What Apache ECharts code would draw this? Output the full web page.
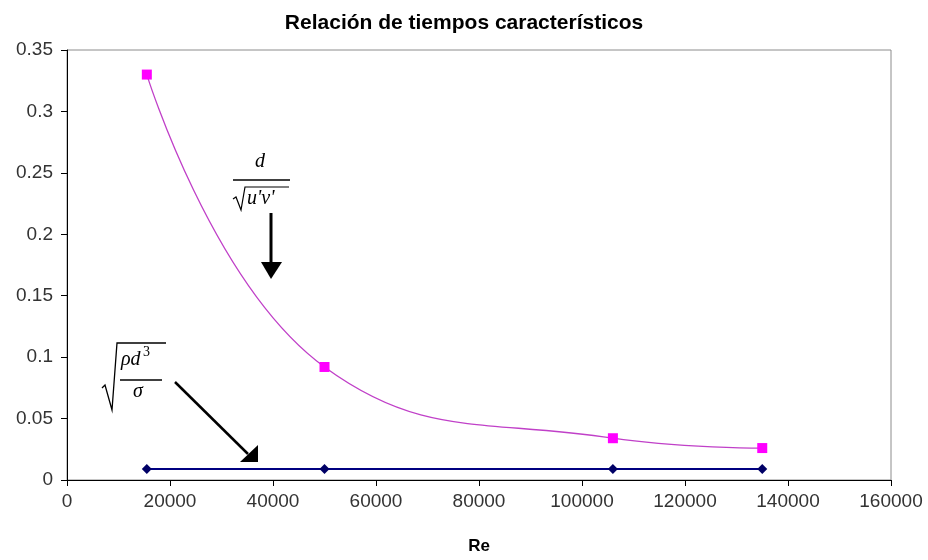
<!DOCTYPE html>
<html>
<head>
<meta charset="utf-8">
<script src="https://cdn.jsdelivr.net/npm/echarts@6/dist/echarts.min.js"></script>
<style>
  html, body { margin: 0; padding: 0; background: #fff; }
  #chart { width: 928px; height: 560px; }
</style>
</head>
<body>
<div id="chart"></div>
<script>
// datos
var reValues = [15500, 50000, 106000, 135000];
var tiempoTurb = [0.330, 0.092, 0.034, 0.026];   // d / sqrt(u'v')
var tiempoTens = [0.009, 0.009, 0.009, 0.009];   // sqrt(rho d^3 / sigma)
var xTicks = [0, 160000, 20000];
var yTicks = [0, 0.35, 0.05];

var chart = echarts.init(document.getElementById('chart'));

function pairs(xs, ys) {
    return xs.map(function (x, i) { return [x, ys[i]]; });
}

var fuente = 'Liberation Sans, Arial, sans-serif';
var serif = 'Liberation Serif, Times New Roman, serif';

var option = {
    backgroundColor: '#fff',
    animation: false,
    title: {
        text: 'Relación de tiempos característicos',
        left: 'center',
        top: 8,
        textStyle: { fontFamily: fuente, fontSize: 21, fontWeight: 'bold', color: '#000' }
    },
    grid: { left: 67, right: 37, top: 50, bottom: 80, show: true, borderColor: '#8c8c8c', borderWidth: 1 },
    xAxis: {
        type: 'value',
        min: xTicks[0], max: xTicks[1], interval: xTicks[2],
        name: 'Re', nameLocation: 'middle', nameGap: 58,
        nameTextStyle: { fontFamily: fuente, fontSize: 17, fontWeight: 'bold', color: '#000' },
        axisLine: { show: true, lineStyle: { color: '#000', width: 1 } },
        axisTick: { show: true, length: 6, inside: false, lineStyle: { color: '#000' } },
        axisLabel: {
            fontFamily: fuente, fontSize: 19, color: '#333', margin: 12,
            formatter: function (v) { return String(v); }
        },
        splitLine: { show: false }
    },
    yAxis: {
        type: 'value',
        min: yTicks[0], max: yTicks[1], interval: yTicks[2],
        axisLine: { show: true, lineStyle: { color: '#000', width: 1 } },
        axisTick: { show: true, length: 6, lineStyle: { color: '#000' } },
        axisLabel: { fontFamily: fuente, fontSize: 19, color: '#333', margin: 14 },
        splitLine: { show: false }
    },
    series: [
        {
            name: 'turbulento',
            type: 'line',
            smooth: 0.45,
            data: pairs(reValues, tiempoTurb),
            symbol: 'rect',
            symbolSize: 10,
            itemStyle: { color: '#ff00ff' },
            lineStyle: { color: '#c040c8', width: 1.3 },
            z: 3
        },
        {
            name: 'tension',
            type: 'line',
            data: pairs(reValues, tiempoTens),
            symbol: 'diamond',
            symbolSize: 10,
            itemStyle: { color: '#000066' },
            lineStyle: { color: '#000080', width: 2 },
            z: 2
        }
    ],
    graphic: [
        // d / sqrt(u'v')
        { type: 'text', left: 255, top: 152, style: { text: 'd', font: 'italic 20px ' + serif, fill: '#000' } },
        { type: 'line', shape: { x1: 233, y1: 180, x2: 290, y2: 180 }, style: { stroke: '#000', lineWidth: 1.5 } },
        { type: 'polyline', shape: { points: [[233, 199], [236, 197], [241, 210], [245, 187], [289, 187]] }, style: { stroke: '#000', lineWidth: 1.2, fill: null } },
        { type: 'text', left: 247, top: 189, style: { text: "u'v'", font: 'italic 20px ' + serif, fill: '#000' } },
        { type: 'line', shape: { x1: 271, y1: 213, x2: 271, y2: 262 }, style: { stroke: '#000', lineWidth: 3 } },
        { type: 'polygon', shape: { points: [[261, 262], [282, 262], [271, 279]] }, style: { fill: '#000' } },
        // sqrt(rho d^3 / sigma)
        { type: 'polyline', shape: { points: [[102, 388], [105, 385], [112, 410], [117, 343], [166, 343]] }, style: { stroke: '#000', lineWidth: 1.3, fill: null } },
        { type: 'text', left: 121, top: 350, style: { text: '\u03C1d', font: 'italic 20px ' + serif, fill: '#000' } },
        { type: 'text', left: 143, top: 345, style: { text: '3', font: '14px ' + serif, fill: '#000' } },
        { type: 'line', shape: { x1: 120, y1: 380, x2: 162, y2: 380 }, style: { stroke: '#000', lineWidth: 1.5 } },
        { type: 'text', left: 133, top: 382, style: { text: '\u03C3', font: 'italic 20px ' + serif, fill: '#000' } },
        { type: 'line', shape: { x1: 175, y1: 382, x2: 248, y2: 454 }, style: { stroke: '#000', lineWidth: 2.5 } },
        { type: 'polygon', shape: { points: [[240, 462], [258, 462], [258, 445]] }, style: { fill: '#000' } }
    ]
};

chart.setOption(option);
</script>
</body>
</html>
